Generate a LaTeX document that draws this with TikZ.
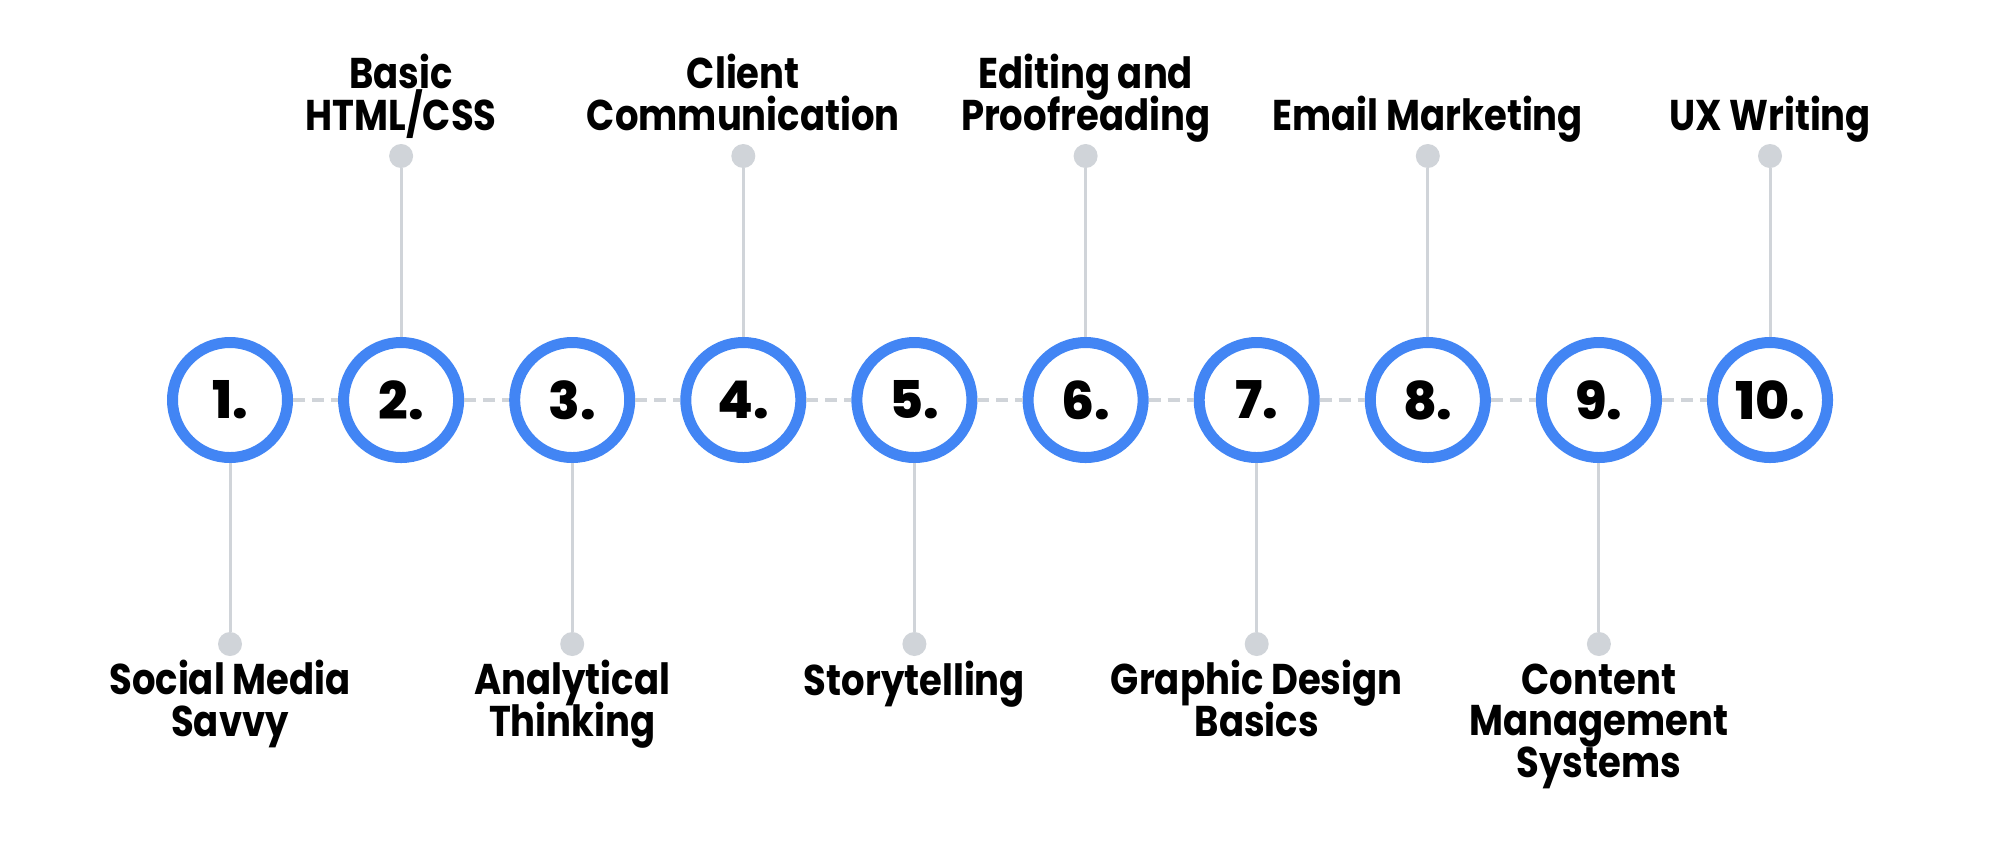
\documentclass[tikz,border=0pt]{standalone}
\usepackage{fontspec}
\setmainfont{Poppins}[UprightFont=* Bold, BoldFont=* ExtraBold, FakeStretch=0.86]
\newfontfamily\numfont{Poppins}[UprightFont=* ExtraBold]
\definecolor{ringblue}{HTML}{4285F4}
\definecolor{linegray}{HTML}{D0D4D9}
\newcommand\lblfont{\fontsize{21.5}{20.6}\selectfont\lineskiplimit -30pt\lineskip 0pt\relax}
\tikzset{
  ring/.style={circle, draw=ringblue, line width=5.5pt, fill=white, minimum size=57.5pt, inner sep=0pt, font=\numfont\fontsize{26}{26}\selectfont, text=black},
  dotnode/.style={circle, fill=linegray, minimum size=12pt, inner sep=0pt},
  stem/.style={draw=linegray, line width=1.5pt},
  dashlink/.style={draw=linegray, line width=2pt, dash pattern=on 6pt off 3.5pt},
  lbl/.style={align=center, inner sep=0pt, anchor=base, text=black, font=\lblfont}
}
\begin{document}
\begin{tikzpicture}[x=0.5pt,y=-0.5pt]
\fill[white] (0,0) rectangle (2000,848);
\useasboundingbox (0,0) rectangle (2000,848);
% circles
\node[ring] (c1) at (230,400) {1.};
\node[ring] (c2) at (401.1,400) {2.};
\node[ring] (c3) at (572.2,400) {3.};
\node[ring] (c4) at (743.3,400) {4.};
\node[ring] (c5) at (914.4,400) {5.};
\node[ring] (c6) at (1085.6,400) {6.};
\node[ring] (c7) at (1256.7,400) {7.};
\node[ring] (c8) at (1427.8,400) {8.};
\node[ring] (c9) at (1598.9,400) {9.};
\node[ring] (c10) at (1770,400) {10.};
% dashed links
\draw[dashlink] (c1) -- (c2);
\draw[dashlink] (c2) -- (c3);
\draw[dashlink] (c3) -- (c4);
\draw[dashlink] (c4) -- (c5);
\draw[dashlink] (c5) -- (c6);
\draw[dashlink] (c6) -- (c7);
\draw[dashlink] (c7) -- (c8);
\draw[dashlink] (c8) -- (c9);
\draw[dashlink] (c9) -- (c10);
% dots
\node[dotnode] (d1) at (230,644) {};
\node[dotnode] (d2) at (401.1,156) {};
\node[dotnode] (d3) at (572.2,644) {};
\node[dotnode] (d4) at (743.3,156) {};
\node[dotnode] (d5) at (914.4,644) {};
\node[dotnode] (d6) at (1085.6,156) {};
\node[dotnode] (d7) at (1256.7,644) {};
\node[dotnode] (d8) at (1427.8,156) {};
\node[dotnode] (d9) at (1598.9,644) {};
\node[dotnode] (d10) at (1770,156) {};
% stems
\draw[stem] (c1) -- (d1);
\draw[stem] (c2) -- (d2);
\draw[stem] (c3) -- (d3);
\draw[stem] (c4) -- (d4);
\draw[stem] (c5) -- (d5);
\draw[stem] (c6) -- (d6);
\draw[stem] (c7) -- (d7);
\draw[stem] (c8) -- (d8);
\draw[stem] (c9) -- (d9);
\draw[stem] (c10) -- (d10);
% labels (base anchor = last line baseline)
\node[lbl] (t1) at (230,736) {Social Media\\Savvy};
\node[lbl] (t2) at (401.1,130) {Basic\\HTML/CSS};
\node[lbl] (t3) at (572.2,736) {Analytical\\Thinking};
\node[lbl] (t4) at (743.3,130) {Client\\Communication};
\node[lbl] (t5) at (914.4,695) {Storytelling};
\node[lbl] (t6) at (1085.6,130) {Editing and\\Proofreading};
\node[lbl] (t7) at (1256.7,736) {Graphic Design\\Basics};
\node[lbl] (t8) at (1427.8,130) {Email Marketing};
\node[lbl] (t9) at (1598.9,777) {Content\\Management\\Systems};
\node[lbl] (t10) at (1770,130) {UX Writing};
\end{tikzpicture}
\end{document}
